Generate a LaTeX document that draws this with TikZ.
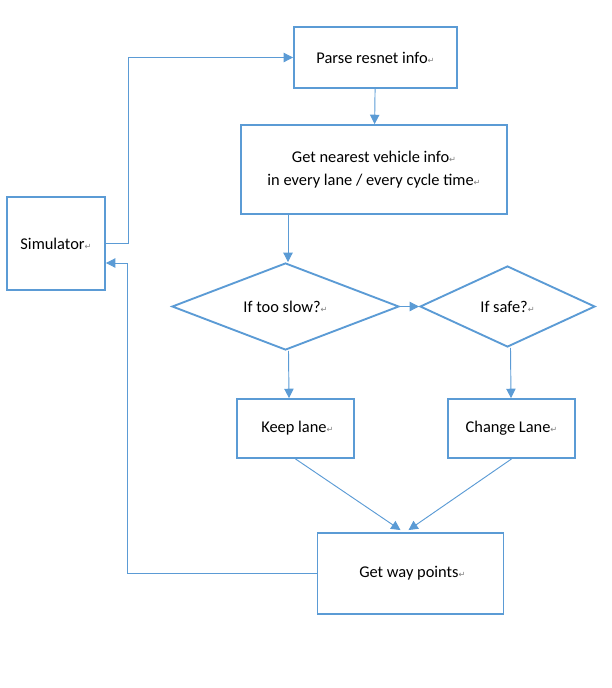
\documentclass[tikz,border=0pt]{standalone}
\usepackage{fontspec}
\setmainfont{Carlito}
\newfontfamily\symfont{DejaVu Sans}
\usepackage{tikz}
\usetikzlibrary{shapes.geometric,arrows.meta,positioning,calc}
\definecolor{officeblue}{RGB}{91,155,213}
\newcommand{\pmark}{{\symfont\fontsize{7}{7}\selectfont\color{gray}↵}}

\tikzset{
    box/.style={draw=officeblue, line width=1.6pt, fill=white, align=center, inner sep=2pt},
    decision/.style={diamond, draw=officeblue, line width=1.6pt, fill=white, inner sep=0pt, aspect=2.6},
    link/.style={draw=officeblue, line width=0.8pt, -{Triangle[width=0.28cm,length=0.28cm]}}
}

\begin{document}
\begin{tikzpicture}[x=0.03cm, y=-0.03cm, font=\fontsize{14}{20}\selectfont]
    \useasboundingbox (0,0) rectangle (612,688);

    % Blocks
    \node[box, minimum width=4.89cm, minimum height=1.83cm] (parse) at (375.5,57.5) {Parse resnet info\pmark};
    \node[box, minimum width=7.98cm, minimum height=2.67cm] (nearest) at (374,169.5) {Get nearest vehicle info\pmark\\ in every lane / every cycle time\pmark};
    \node[box, minimum width=2.94cm, minimum height=2.79cm] (sim) at (56,243.5) {Simulator\pmark};
    \node[decision, minimum width=6.81cm, minimum height=2.61cm] (slow) at (285.5,306.5) {If too slow?\pmark};
    \node[decision, minimum width=5.25cm, minimum height=2.43cm] (safe) at (507.5,306.5) {If safe?\pmark};
    \node[box, minimum width=3.51cm, minimum height=1.77cm] (keep) at (295.5,428.5) {\ Keep lane\pmark};
    \node[box, minimum width=3.81cm, minimum height=1.77cm] (change) at (511.5,428.5) {Change Lane\pmark};
    \node[box, minimum width=5.58cm, minimum height=2.43cm] (way) at (410.5,573.5) {\ Get way points\pmark};

    % Arrows
    \draw[link] (parse) -- (nearest);
    \draw[link] ($(slow.north |- nearest.south)+(2.5,0)$) -- ($(slow.north)+(2.5,0)$);
    \draw[link] (slow.east) -- (safe.west);
    \draw[link] ($(slow.south)+(3,0)$) -- ($(keep.north)+(-6.5,0)$);
    \draw[link] ($(safe.south)+(3,0)$) -- ($(change.north)+(-0.5,0)$);
    \draw[link] (keep.south) -- ($(way.north)+(-10,-2)$);
    \draw[link] (change.south) -- ($(way.north)+(-2,-2)$);

    % Loop back to the simulator
    \draw[link] (way.west) -- ++(-189,0) |- ($(sim.east)+(0,19.5)$);
    \draw[link] ($(sim.east)+(0,-0.5)$) -- ++(23,0) |- (parse.west);
\end{tikzpicture}
\end{document}
